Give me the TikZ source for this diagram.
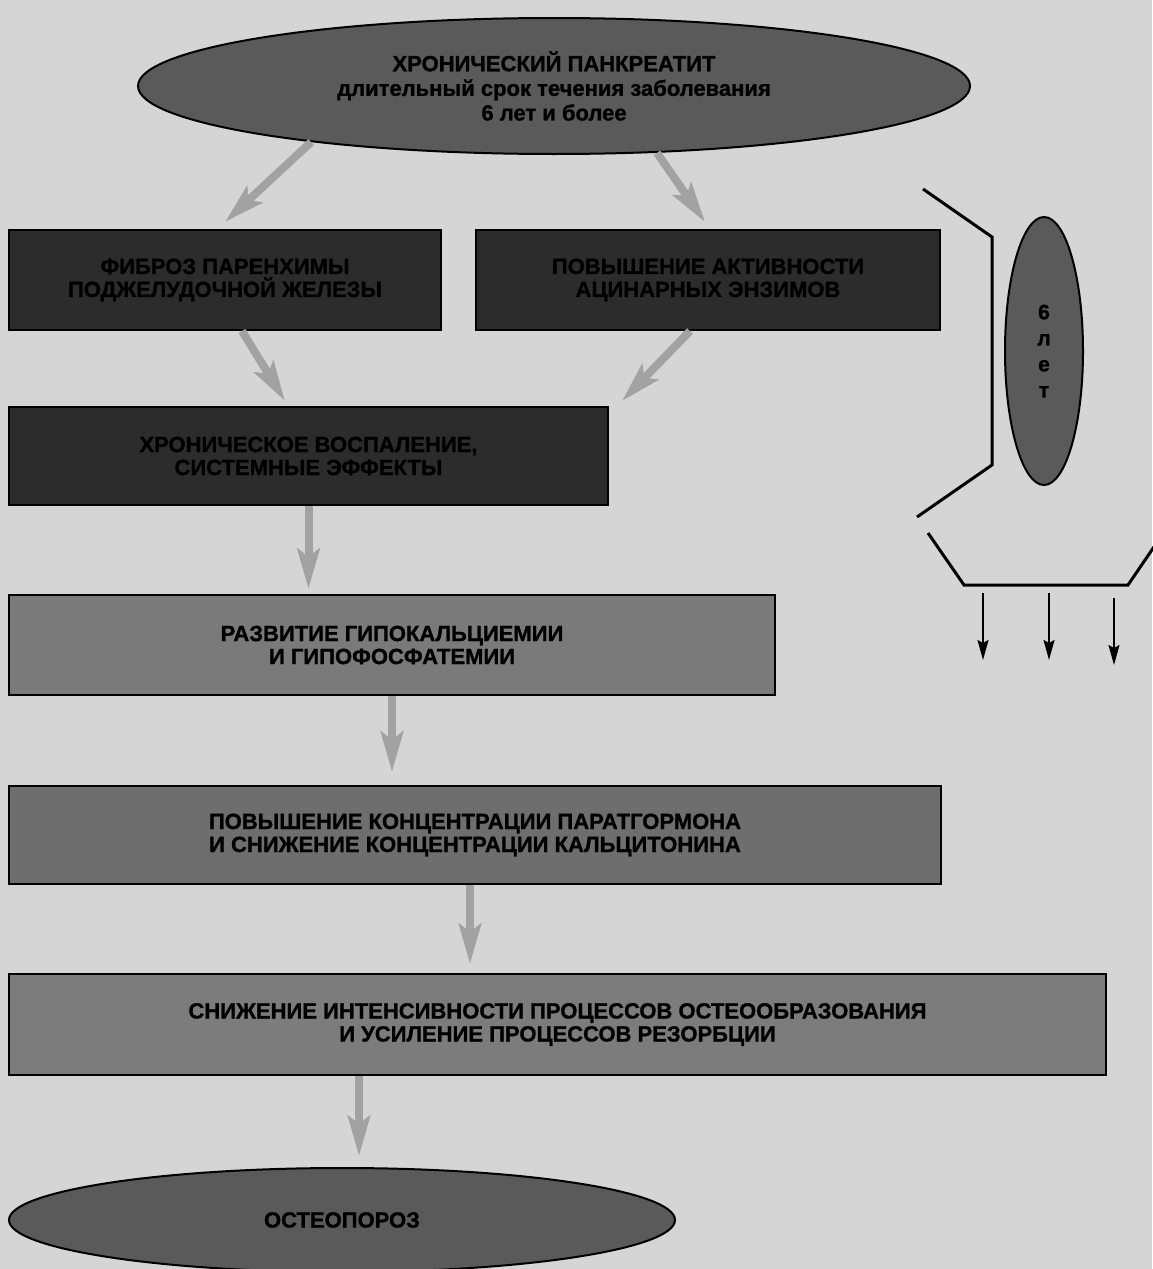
\documentclass[tikz,border=0pt]{standalone}
\usepackage{fontspec}
\setmainfont{Liberation Sans}
\newfontfamily\heavyfont{Liberation Sans}[BoldFeatures={FakeBold=1.2}]
\usetikzlibrary{shapes.geometric,arrows.meta}
\definecolor{bg}{HTML}{D5D5D5}
\definecolor{darkbox}{HTML}{2C2C2C}
\definecolor{ellgray}{HTML}{5A5A5A}
\definecolor{boxA}{HTML}{7A7A7A}
\definecolor{boxB}{HTML}{6E6E6E}
\definecolor{boxC}{HTML}{7C7C7C}
\definecolor{arrgray}{HTML}{A2A2A2}
\newcommand\dfont{\heavyfont\fontsize{11}{11.5}\selectfont\bfseries}
\begin{document}
\begin{tikzpicture}[x=0.5pt,y=-0.5pt,
  box/.style={draw=black, line width=1pt, rectangle, inner sep=0pt, align=center, font=\dfont, text=black},
  ell/.style={draw=black, line width=1pt, ellipse, inner sep=0pt, align=center, font=\dfont, text=black, fill=ellgray},
  garrow/.style={draw=arrgray, line width=4pt, -{Stealth[length=20pt,width=11pt,inset=4pt]}},
  barrow/.style={draw=black, line width=1pt, -{Stealth[length=10pt,width=5.5pt,inset=1.5pt]}},
  bline/.style={draw=black, line width=1.5pt}]
\useasboundingbox[fill=bg] (0,0) rectangle (1152,1269);

% nodes
\node[ell, minimum width=416pt, minimum height=68pt, font=\heavyfont\fontsize{11}{12.3}\selectfont\bfseries] (top) at (554,86)
  {ХРОНИЧЕСКИЙ ПАНКРЕАТИТ\\длительный срок течения заболевания\\6 лет и более};
\node[box, fill=darkbox, minimum width=216pt, minimum height=50pt] (fib) at (225,280)
  {ФИБРОЗ ПАРЕНХИМЫ\\ПОДЖЕЛУДОЧНОЙ ЖЕЛЕЗЫ};
\node[box, fill=darkbox, minimum width=232pt, minimum height=50pt] (act) at (708,280)
  {ПОВЫШЕНИЕ АКТИВНОСТИ\\АЦИНАРНЫХ ЭНЗИМОВ};
\node[box, fill=darkbox, minimum width=299.5pt, minimum height=49pt] (inf) at (308.5,456)
  {ХРОНИЧЕСКОЕ ВОСПАЛЕНИЕ,\\СИСТЕМНЫЕ ЭФФЕКТЫ};
\node[box, fill=boxA, minimum width=383pt, minimum height=50pt] (hypo) at (392,645)
  {РАЗВИТИЕ ГИПОКАЛЬЦИЕМИИ\\И ГИПОФОСФАТЕМИИ};
\node[box, fill=boxB, minimum width=466pt, minimum height=49pt] (pth) at (475,835)
  {ПОВЫШЕНИЕ КОНЦЕНТРАЦИИ ПАРАТГОРМОНА\\И СНИЖЕНИЕ КОНЦЕНТРАЦИИ КАЛЬЦИТОНИНА};
\node[box, fill=boxC, minimum width=548.5pt, minimum height=50.5pt] (proc) at (557.5,1024.5)
  {СНИЖЕНИЕ ИНТЕНСИВНОСТИ ПРОЦЕССОВ ОСТЕООБРАЗОВАНИЯ\\И УСИЛЕНИЕ ПРОЦЕССОВ РЕЗОРБЦИИ};
\node[ell, minimum width=333pt, minimum height=52pt] (osteo) at (342,1220) {ОСТЕОПОРОЗ};
\node[ell, minimum width=39pt, minimum height=134pt, font=\heavyfont\fontsize{10.5}{13}\selectfont\bfseries] (six) at (1044,351)
  {6\\л\\е\\т};

% gray connectors
\draw[garrow] (top.193) -- ([yshift=3.5pt]fib.north);
\draw[garrow] (top.327) -- ([yshift=3.5pt,xshift=-1.5pt]act.north);
\draw[garrow] ([xshift=8.5pt]fib.south) -- ([xshift=-11.75pt,yshift=2.5pt]inf.north);
\draw[garrow] ([xshift=-9pt]act.south) -- ([xshift=6.5pt,yshift=2.5pt]inf.north east);
\path ([yshift=2.5pt]hypo.north) coordinate (hN);
\draw[garrow] (inf.south) -- (inf.south |- hN);
\path ([yshift=6.5pt]pth.north) coordinate (pN);
\draw[garrow] (hypo.south) -- (hypo.south |- pN);
\path ([xshift=-2.5pt]pth.south) coordinate (pS);
\path ([yshift=4.5pt]proc.north) coordinate (cN);
\draw[garrow] (pS) -- (pS |- cN);
\path ([xshift=-99.25pt]proc.south) coordinate (cS);
\path ([yshift=5.5pt]osteo.north) coordinate (oN);
\draw[garrow] (cS) -- (cS |- oN);

% brackets
\draw[bline] (923,189) -- (992,237) -- (992,465) -- (917,517);
\draw[bline] (928,533) -- (964,585) -- (1128,585) -- (1160,538);

% black arrows
\coordinate (b1s) at (983,593); \coordinate (b1e) at (983,660);
\coordinate (b2s) at (1049,593); \coordinate (b2e) at (1049,660);
\coordinate (b3s) at (1114,598); \coordinate (b3e) at (1114,665);
\draw[barrow] (b1s) -- (b1e);
\draw[barrow] (b2s) -- (b2e);
\draw[barrow] (b3s) -- (b3e);
\end{tikzpicture}
\end{document}
